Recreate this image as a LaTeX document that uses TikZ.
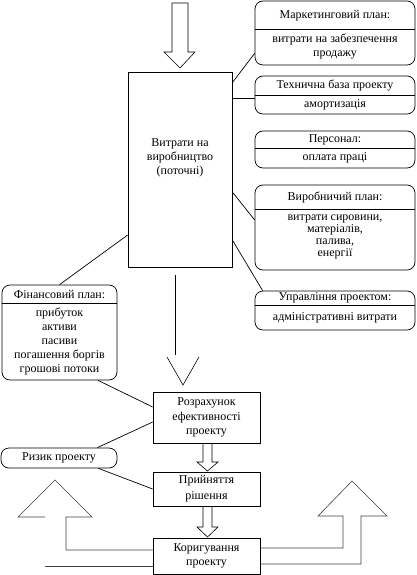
\documentclass[tikz,border=0pt]{standalone}
\usepackage{fontspec}
\setmainfont{Liberation Serif}
\begin{document}
\begin{tikzpicture}[x=1pt,y=-1pt,line width=0.7pt,
  rbox/.style={draw, rounded corners=8pt, inner sep=0pt},
  sbox/.style={draw, inner sep=0pt},
  txt/.style={inner sep=0pt, align=center, font=\fontsize{12}{14}\selectfont},
  tight/.style={font=\fontsize{12}{11.8}\selectfont},
  bigarrow/.style={draw=black!75, line width=0.6pt},
  hollow/.style={draw, line width=0.6pt}]
\useasboundingbox (0,0) rectangle (416,575);

% main box
\node[sbox, minimum width=104pt, minimum height=195pt] (main) at (180,169.5) {};
\node[txt] (mainT) at (180,158) {Витрати на\\виробництво\\(поточні)};

% right boxes
\node[rbox, minimum width=160pt, minimum height=64pt] (mk) at (335,33) {};
\draw (mk.west |- 0,29) -- (mk.east |- 0,29);
\node[txt] (mkT) at (335,16) {Маркетинговий план:};
\node[txt] (mkB) at (335,47) {витрати на забезпечення\\продажу};

\node[rbox, minimum width=160pt, minimum height=38pt] (tb) at (335,95) {};
\draw (tb.west |- 0,95) -- (tb.east |- 0,95);
\node[txt] (tbT) at (335,85.5) {Технична база проекту};
\node[txt] (tbB) at (335,104.5) {амортизація};

\node[rbox, minimum width=160pt, minimum height=37pt] (ps) at (335,149.5) {};
\draw (ps.west |- 0,148) -- (ps.east |- 0,148);
\node[txt] (psT) at (335,140) {Персонал:};
\node[txt] (psB) at (335,158) {оплата праці};

\node[rbox, minimum width=160pt, minimum height=85pt] (vp) at (335,227.5) {};
\draw (vp.west |- 0,209) -- (vp.east |- 0,209);
\node[txt] (vpT) at (335,197) {Виробничий план:};
\node[txt, tight] (vpB) at (335,237) {витрати сировини,\\матеріалів,\\палива,\\енергії};

\node[rbox, minimum width=160pt, minimum height=39pt] (up) at (335,310.5) {};
\draw (up.west |- 0,305) -- (up.east |- 0,305);
\node[txt] (upT) at (335,298) {Управління проектом:};
\node[txt] (upB) at (335,318) {адміністративні витрати};

% left boxes
\node[rbox, minimum width=115pt, minimum height=95pt] (fin) at (59.5,332.5) {};
\draw (fin.west |- 0,303) -- (fin.east |- 0,303);
\node[txt] (finT) at (59.5,294) {Фінансовий план:};
\node[txt] (finB) at (59.5,341.5) {прибуток\\активи\\пасиви\\погашення боргів\\грошові потоки};

\node[rbox, minimum width=116pt, minimum height=20pt] (risk) at (59,458) {};
\node[txt] (riskT) at (59,458) {Ризик проекту};

% central column
\node[sbox, minimum width=107pt, minimum height=51pt] (rozr) at (206.5,417.5) {};
\node[txt, font=\fontsize{12}{14.5}\selectfont] (rozrT) at (206.5,417.5) {Розрахунок\\ефективності\\проекту};

\node[sbox, minimum width=107pt, minimum height=34pt] (pr) at (206.5,489) {};
\node[txt, font=\fontsize{12}{16}\selectfont] (prT) at (206.5,489) {Прийняття\\рішення};

\node[sbox, minimum width=107pt, minimum height=36pt] (kor) at (206.5,556) {};
\node[txt] (korT) at (206.5,556) {Коригування\\проекту};

% connectors
\draw ([yshift=-11pt]main.north east) -- ([yshift=12pt]mk.south west);
\draw (tb.west |- 0,98) -- (main.east |- 0,98);
\draw ([yshift=-22.5pt]main.east) -- ([yshift=7.5pt]vp.west);
\draw ([yshift=-70.5pt]main.east) -- ([xshift=8pt]up.north west);
\draw ([yshift=-65.5pt]main.west) -- (fin.north);
\draw ([xshift=38.5pt]fin.south) -- ([yshift=10.5pt]rozr.west);
\draw ([xshift=-20pt]risk.north east) -- ([yshift=-4.5pt]rozr.west);
\draw ([xshift=-19pt]risk.south east) -- (pr.west);

% top hollow arrow
\draw[hollow] (172,3) -- (188,3) -- (188,52) -- (195,52) -- (180,68) -- (164,52) -- (172,52) -- cycle;

% open V arrow
\draw[line width=0.6pt] (175,275) -- (175,355);
\draw[line width=0.6pt] (167,357) -- (183,385) -- (199,357);

% small hollow arrows
\draw[hollow] (203,443) -- (203,462) -- (197,462) -- (207.5,471) -- (218,462) -- (212,462) -- (212,443);
\draw[hollow] (203,506) -- (203,527) -- (197,527) -- (207.5,537) -- (218,527) -- (212,527) -- (212,506);

% big left arrow
\draw[bigarrow] (kor.west |- 0,550) -- (66,550) -- (66,517) -- (92,517) -- (55,480) -- (18,517) -- (45,517);
\draw[bigarrow] (45,566) -- (kor.west |- 0,566);

% big right arrow
\draw[bigarrow] (kor.east |- 0,548) -- (343,548) -- (343,516) -- (318,516) -- (352,481) -- (387,516) -- (361,516) -- (361,564) -- (kor.east |- 0,564);
\end{tikzpicture}
\end{document}
